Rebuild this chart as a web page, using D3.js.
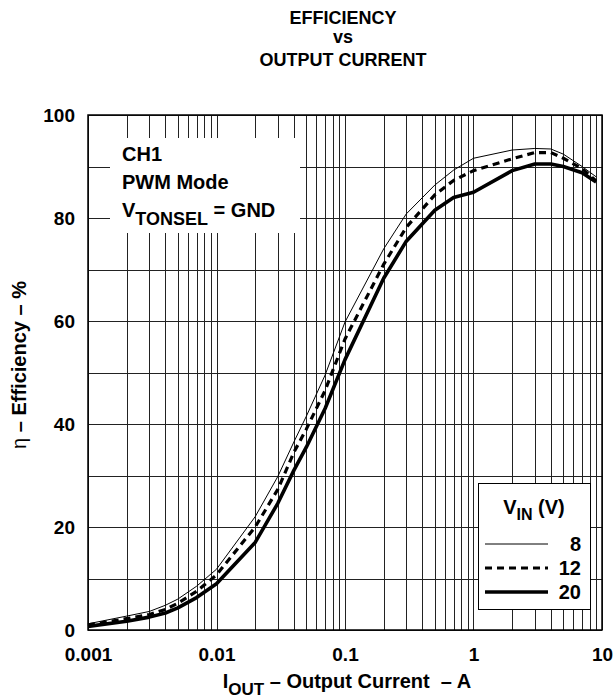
<!DOCTYPE html>
<html>
<head>
<meta charset="utf-8">
<script src="https://cdn.jsdelivr.net/npm/d3@7"></script>
<style>
  html, body { margin: 0; padding: 0; background: #fff; }
  svg { display: block; font-family: "Liberation Sans", Arial, Helvetica, sans-serif; }
  text { font-weight: bold; fill: #000; }
</style>
</head>
<body>
<svg id="chart" width="616" height="698"></svg>
<script>
// ---- data ----
const titleLines = ["EFFICIENCY", "vs", "OUTPUT CURRENT"];
const currents = [0.001, 0.002, 0.003, 0.004, 0.005, 0.007, 0.01, 0.02, 0.03, 0.04, 0.05, 0.07, 0.1, 0.2, 0.3, 0.5, 0.7, 1, 2, 3, 4, 5, 7, 9];
const eff8V  = [1.2, 2.7, 3.6, 4.8, 6.0, 8.5, 11.8, 22.0, 29.8, 36.5, 41.5, 49.5, 59.8, 74.0, 80.8, 86.4, 89.3, 91.6, 93.2, 93.5, 93.4, 92.4, 90.0, 88.0];
const eff12V = [1.0, 2.2, 3.0, 4.0, 5.2, 7.5, 10.7, 20.0, 27.3, 34.5, 39.0, 46.5, 56.5, 71.0, 78.2, 84.5, 87.3, 89.2, 91.5, 92.7, 92.7, 91.6, 89.6, 87.2];
const eff20V = [0.7, 1.7, 2.5, 3.3, 4.3, 6.3, 9.0, 17.0, 24.6, 31.0, 35.5, 43.0, 52.5, 68.3, 75.5, 81.5, 84.0, 85.0, 89.2, 90.5, 90.5, 90.0, 88.8, 87.0];
const seriesNames = ["8", "12", "20"];
const xTickValues = [0.001, 0.01, 0.1, 1, 10];
const xTickLabels = ["0.001", "0.01", "0.1", "1", "10"];
const yTickValues = [0, 20, 40, 60, 80, 100];
const yGridValues = [0, 10, 20, 30, 40, 50, 60, 70, 80, 90, 100];

// ---- layout ----
const svg = d3.select("#chart");
const L = 88, R = 602, T = 115, B = 630;
const x = d3.scaleLog().domain([0.001, 10]).range([L, R]);
const y = d3.scaleLinear().domain([0, 100]).range([B, T]);

// title
svg.append("g").selectAll("text").data(titleLines).join("text")
  .attr("x", 343).attr("y", (d, i) => [24, 43, 66][i])
  .attr("text-anchor", "middle").attr("font-size", 18).text(d => d);

// grid
const grid = svg.append("g").attr("stroke", "#222").attr("stroke-width", 1).attr("shape-rendering", "crispEdges");
grid.selectAll("line.v").data(x.ticks()).join("line")
  .attr("x1", d => Math.round(x(d)) + 0.5).attr("x2", d => Math.round(x(d)) + 0.5)
  .attr("y1", T).attr("y2", B);
grid.selectAll("line.h").data(yGridValues).join("line")
  .attr("y1", d => Math.round(y(d)) + 0.5).attr("y2", d => Math.round(y(d)) + 0.5)
  .attr("x1", L).attr("x2", R);

// frame
svg.append("rect").attr("x", L).attr("y", T).attr("width", R - L).attr("height", B - T)
  .attr("fill", "none").attr("stroke", "#000").attr("stroke-width", 1.5);

// annotation box (white, no border)
svg.append("rect").attr("x", 110).attr("y", 138).attr("width", 190).attr("height", 95).attr("fill", "#fff");
const ann = svg.append("g").attr("font-size", 20);
ann.append("text").attr("x", 122).attr("y", 161).text("CH1");
ann.append("text").attr("x", 122).attr("y", 189).text("PWM Mode");
const vt = ann.append("text").attr("x", 122).attr("y", 217);
vt.append("tspan").text("V");
vt.append("tspan").attr("dy", 8).attr("font-size", 18).text("TONSEL");
vt.append("tspan").attr("dy", -8).text(" = GND");

// curves
const line = d3.line().x(d => x(d[0])).y(d => y(d[1]));
const series = [
  { name: seriesNames[0], vals: eff8V, width: 1, dash: null },
  { name: seriesNames[1], vals: eff12V, width: 3.2, dash: "7,5" },
  { name: seriesNames[2], vals: eff20V, width: 3.6, dash: null }
];
svg.append("g").selectAll("path").data(series).join("path")
  .attr("d", s => line(currents.map((c, i) => [c, s.vals[i]])))
  .attr("fill", "none").attr("stroke", "#000")
  .attr("stroke-width", s => s.width)
  .attr("stroke-dasharray", s => s.dash)
  .attr("stroke-linejoin", "round");

// axes
const yAxis = d3.axisLeft(y).tickValues(yTickValues).tickSize(0).tickPadding(13);
svg.append("g").attr("transform", `translate(${L},0)`).call(yAxis)
  .call(g => g.select(".domain").remove())
  .selectAll("text").attr("font-size", 19).attr("font-family", null).attr("fill", "#000").attr("dy", "0.35em");

const xAxis = d3.axisBottom(x).tickValues(xTickValues).tickFormat((d, i) => xTickLabels[i]).tickSize(0).tickPadding(18);
svg.append("g").attr("transform", `translate(0,${B})`).call(xAxis)
  .call(g => g.select(".domain").remove())
  .selectAll("text").attr("font-size", 19).attr("font-family", null).attr("fill", "#000");

// x title
const xt = svg.append("text").attr("x", 347).attr("y", 688).attr("text-anchor", "middle")
  .attr("font-size", 20).style("white-space", "pre");
xt.append("tspan").text("I");
xt.append("tspan").attr("dy", 7).attr("font-size", 17).text("OUT");
xt.append("tspan").attr("dy", -7).text(" \u2013 Output Current  \u2013 A");

// y title
const yt = svg.append("text").attr("transform", "translate(26,365) rotate(-90)")
  .attr("text-anchor", "middle").attr("font-size", 20);
yt.append("tspan").attr("font-weight", "normal").text("\u03b7");
yt.append("tspan").text(" \u2013 Efficiency \u2013 %");

// legend
const lg = svg.append("g");
lg.append("rect").attr("x", 478.5).attr("y", 483.5).attr("width", 112).attr("height", 126)
  .attr("fill", "#fff").attr("stroke", "#000").attr("stroke-width", 1);
const lt = lg.append("text").attr("x", 534).attr("y", 514).attr("text-anchor", "middle").attr("font-size", 20);
lt.append("tspan").text("V");
lt.append("tspan").attr("dy", 6).attr("font-size", 16).text("IN");
lt.append("tspan").attr("dy", -6).text(" (V)");
const rowY = [544, 568, 592];
lg.selectAll("line.leg").data(series).join("line")
  .attr("x1", 485).attr("x2", 548)
  .attr("y1", (d, i) => rowY[i]).attr("y2", (d, i) => rowY[i])
  .attr("stroke", "#000").attr("stroke-width", d => d.width).attr("stroke-dasharray", d => d.dash);
lg.selectAll("text.leg").data(series).join("text")
  .attr("x", 581).attr("y", (d, i) => rowY[i] + 7).attr("text-anchor", "end").attr("font-size", 20)
  .text(d => d.name);
</script>
</body>
</html>
